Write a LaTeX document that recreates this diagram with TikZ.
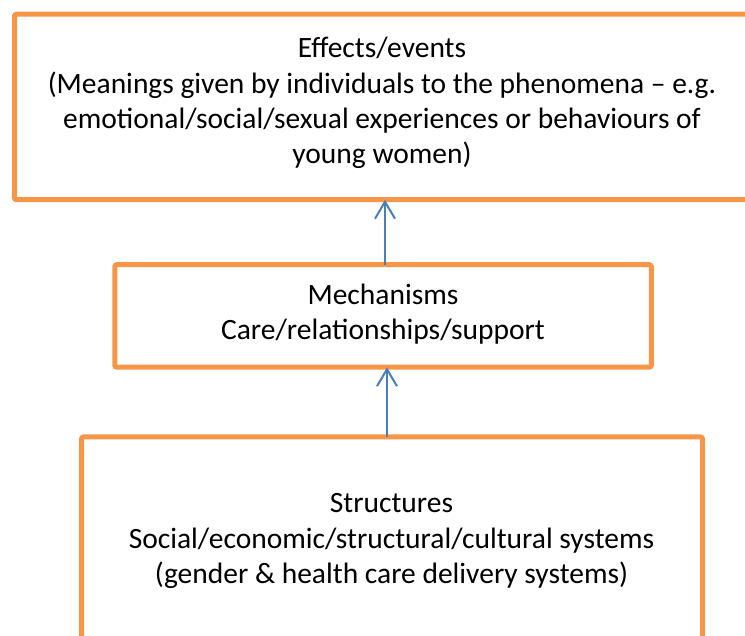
\documentclass[tikz,border=0pt]{standalone}
\usepackage{fontspec}
\setmainfont{Carlito}
\usetikzlibrary{arrows.meta}
\definecolor{boxorange}{HTML}{F79646}
\definecolor{arrowblue}{HTML}{4A7EBB}
\begin{document}
\begin{tikzpicture}[x=1pt,y=-1pt,
  box/.style={draw=boxorange,line width=5pt,rounded corners=2pt,inner sep=0pt,outer sep=0pt},
  lbl/.style={align=center,font=\fontsize{29.5}{35.2}\selectfont,inner sep=0pt},
  uparrow/.style={draw=arrowblue,line width=2pt,-{Straight Barb[length=17pt,width=20pt,line width=2pt]}}]
\useasboundingbox (0,0) rectangle (745,636);
\clip (0,0) rectangle (745,636);
\node[box,minimum width=741pt,minimum height=185.5pt] (top) at (385,107) {};
\node[box,minimum width=536.5pt,minimum height=102.5pt] (mid) at (383,316) {};
\node[box,minimum width=621pt,minimum height=230pt] (bot) at (392,552) {};
\node[lbl] (toptext) at (382,103) {Effects/events\\(Meanings given by individuals to the phenomena – e.g.\\emotional/social/sexual experiences or behaviours of\\young women)};
\node[lbl] (midtext) at (383,314) {Mechanisms\\Care/relationships/support};
\node[lbl] (bottext) at (391.5,541) {Structures\\Social/economic/structural/cultural systems\\(gender \& health care delivery systems)};
\draw[uparrow] ([xshift=2pt]mid.north) -- ([xshift=2pt]mid.north |- top.south);
\draw[uparrow] ([xshift=4pt]mid.south |- bot.north) -- ([xshift=4pt]mid.south);
\end{tikzpicture}
\end{document}
